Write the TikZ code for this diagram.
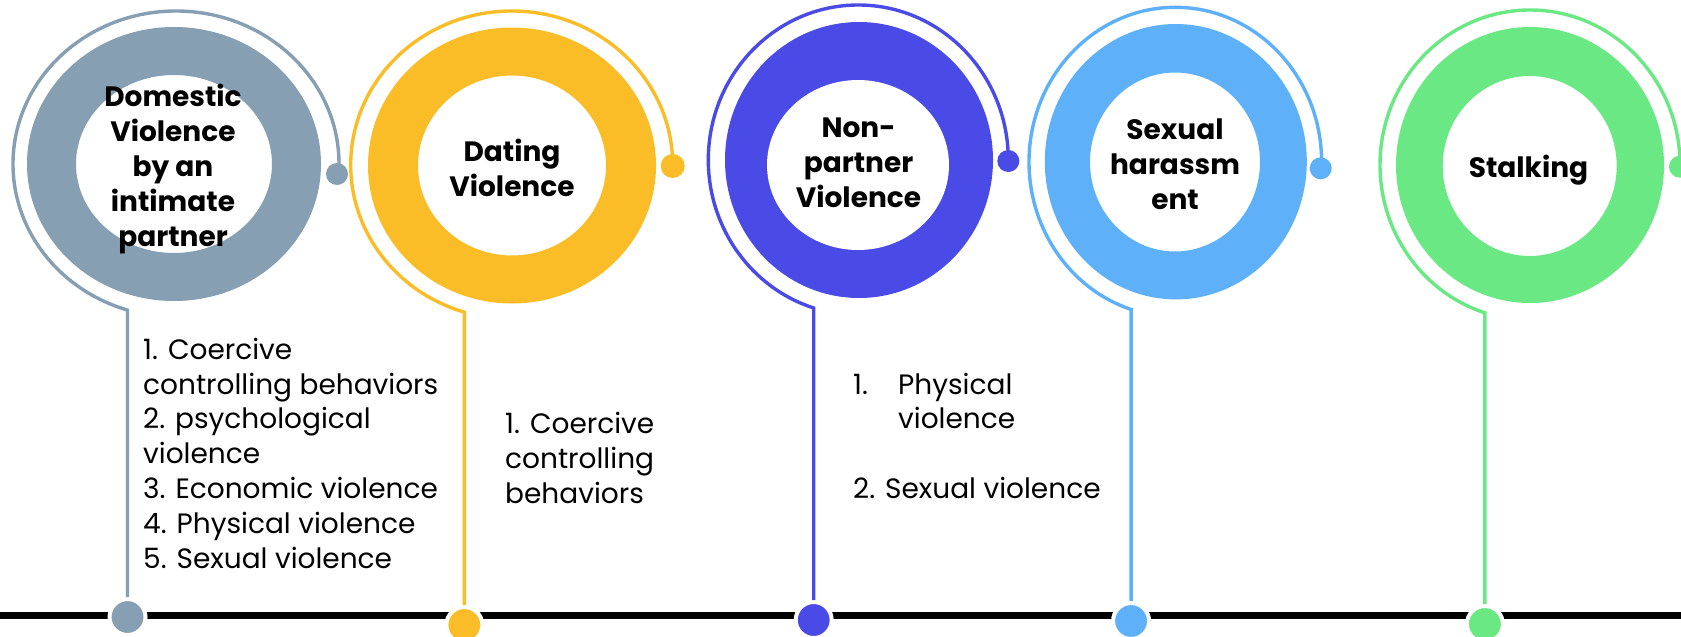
\documentclass[tikz,border=0pt]{standalone}
\usepackage{fontspec}
\setmainfont{Poppins}
\usetikzlibrary{calc}
\definecolor{cA}{HTML}{879FB3}
\definecolor{cB}{HTML}{FBBD27}
\definecolor{cC}{HTML}{4A4AE6}
\definecolor{cD}{HTML}{5EB1F9}
\definecolor{cE}{HTML}{69E883}
\begin{document}
\begin{tikzpicture}[x=1pt,y=1pt,
  thinline/.style={line width=3.4pt},
  enddot/.style={circle, inner sep=0pt, minimum size=22pt},
  botdot/.style={circle, inner sep=0pt, minimum size=36pt, draw=white, line width=4pt},
  titletext/.style={align=center, font=\fontsize{28}{35}\selectfont\bfseries, inner sep=0pt},
  bodytext/.style={align=left, anchor=base west, font=\fontsize{28}{34.3}\selectfont, inner sep=0pt}]
\useasboundingbox (0,0) rectangle (1681,-637);
\fill[white] (0,0) rectangle (1681,-637);
% baseline
\coordinate (L) at (0,-615.3);
\coordinate (R) at (1681,-615.3);
\draw[line width=6.5pt] (L) -- (R);

% ---------- Element 1 ----------
\fill[cA, even odd rule] (174,-164) ellipse [x radius=147, y radius=137] (174,-164) ellipse [x radius=98, y radius=89];
\coordinate (a1c) at (176,-164);
\coordinate (a1s) at (339,-164);
\path (a1c) ++(252.7:163 and 153) coordinate (a1e);
\node[botdot, fill=cA] (b1) at (a1e |- 0,-617) {};
\node[enddot, fill=cA] (r1) at (337,-174) {};
\draw[cA, thinline] (a1s) arc[start angle=0, end angle=252.7, x radius=163, y radius=153] -- (b1);
\node[titletext] (t1) at (173,-169) {Domestic\\Violence\\by an\\intimate\\partner};
\node[bodytext, font=\fontsize{28}{34.8}\selectfont] (l1) at (143,-568) {1. Coercive\\controlling behaviors\\2. psychological\\violence\\3. Economic violence\\4. Physical violence\\5. Sexual violence};

% ---------- Element 2 ----------
\fill[cB, even odd rule] (512,-165.5) ellipse [x radius=144, y radius=138] (512,-165.5) ellipse [x radius=94, y radius=90];
\coordinate (a2c) at (511.7,-165);
\coordinate (a2s) at (672.7,-165);
\path (a2c) ++(252.9:161 and 154) coordinate (a2e);
\node[botdot, fill=cB] (b2) at (a2e |- 0,-625) {};
\node[enddot, fill=cB, minimum size=24pt] (r2) at (672.7,-166) {};
\draw[cB, thinline] (a2s) arc[start angle=0, end angle=252.9, x radius=161, y radius=154] -- (b2);
\node[titletext] (t2) at (512,-167.5) {Dating\\Violence};
\node[bodytext, font=\fontsize{28}{35}\selectfont] (l2) at (505,-503) {1. Coercive\\controlling\\behaviors};

% ---------- Element 3 ----------
\fill[cC] (859,-160) ellipse [x radius=134, y radius=138];
\fill[white] (858,-165) ellipse [x radius=91, y radius=85];
\coordinate (a3c) at (858.3,-160);
\coordinate (a3s) at (1008.3,-160);
\path (a3c) ++(252.7:150 and 155) coordinate (a3e);
\node[botdot, fill=cC] (b3) at (a3e |- 0,-620) {};
\node[enddot, fill=cC] (r3) at (1008.3,-161) {};
\draw[cC, thinline] (a3s) arc[start angle=0, end angle=252.7, x radius=150, y radius=155] -- (b3);
\node[titletext] (t3) at (858.5,-163) {Non-\\partner\\Violence};
\node[bodytext] (l3) at (853,-498) {\makebox[45pt][l]{1.}Physical\\\hspace*{45pt}violence\\[34.8pt]2. Sexual violence};

% ---------- Element 4 ----------
\fill[cD, even odd rule] (1175.8,-161.7) ellipse [x radius=131, y radius=137.7] (1175,-162) ellipse [x radius=85, y radius=89.5];
\coordinate (a4c) at (1175.3,-162);
\coordinate (a4s) at (1321.6,-162);
\path (a4c) ++(252.4:146.3 and 154.7) coordinate (a4e);
\node[botdot, fill=cD] (b4) at (a4e |- 0,-621) {};
\node[enddot, fill=cD] (r4) at (1320.7,-168.3) {};
\draw[cD, thinline] (a4s) arc[start angle=0, end angle=252.4, x radius=146.3, y radius=154.7] -- (b4);
\node[titletext] (t4) at (1175,-164) {Sexual\\harassm\\ent};

% ---------- Element 5 ----------
\fill[cE, even odd rule] (1530,-165) ellipse [x radius=134, y radius=138] (1529.7,-166) ellipse [x radius=87, y radius=90];
\coordinate (a5c) at (1530,-165);
\coordinate (a5s) at (1680,-165);
\path (a5c) ++(252.5:150 and 155) coordinate (a5e);
\node[botdot, fill=cE] (b5) at (a5e |- 0,-624) {};
\node[enddot, fill=cE] (r5) at (1680,-166.7) {};
\draw[cE, thinline] (a5s) arc[start angle=0, end angle=252.5, x radius=150, y radius=155] -- (b5);
\node[titletext] (t5) at (1528.5,-170) {Stalking};
\end{tikzpicture}
\end{document}
